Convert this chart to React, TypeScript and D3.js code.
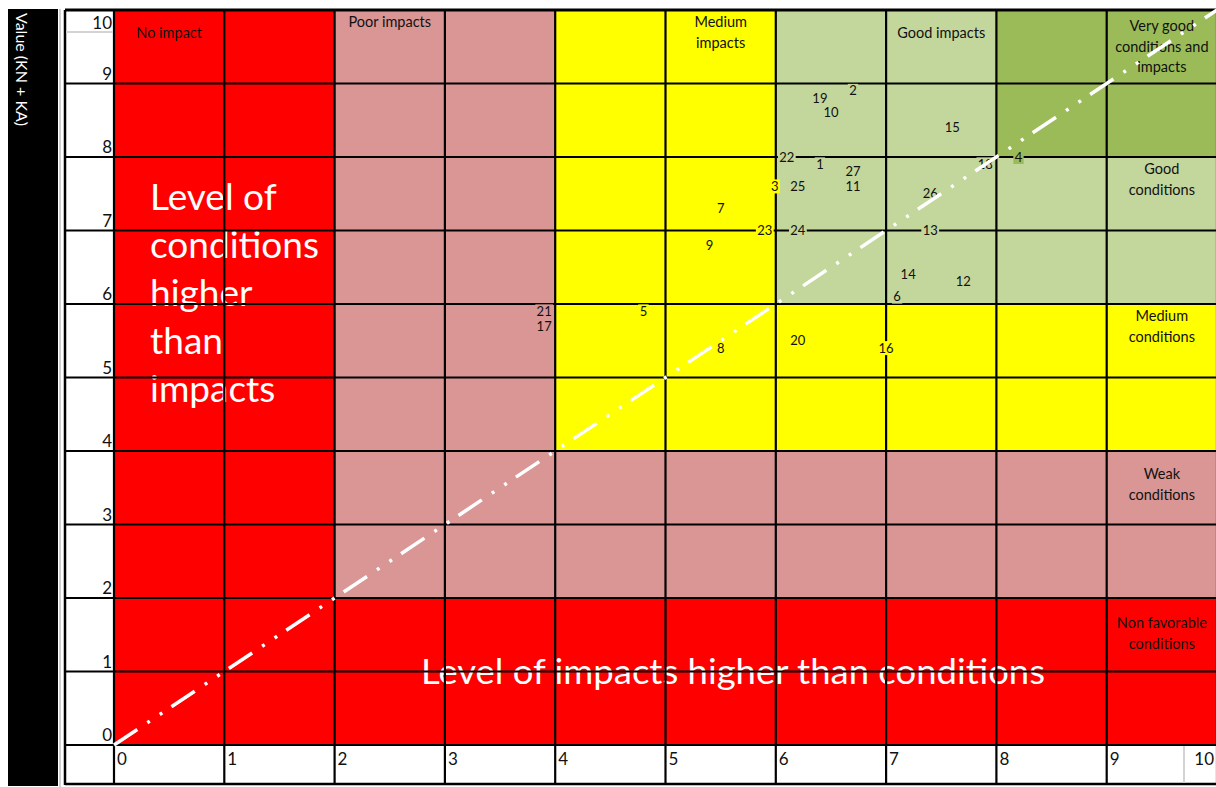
import * as d3 from "d3";

// point ids with their impact (x) and condition (y) values
const pointIds = [
  1, 2, 3, 4, 5, 6, 7, 8, 9, 10, 11, 12, 13, 14, 15, 16, 17, 18, 19, 20, 21, 22, 23, 24, 25, 26, 27,
];
const impactValues = [
  6.4, 6.7, 5.99, 8.2, 4.8, 7.1, 5.5, 5.5, 5.4, 6.5, 6.7, 7.7, 7.4, 7.2, 7.6, 7.0, 3.9, 7.9, 6.4, 6.2,
  3.9, 6.1, 5.9, 6.2, 6.2, 7.4, 6.7,
];
const conditionValues = [
  7.9, 8.9, 7.6, 8.0, 5.9, 6.1, 7.3, 5.4, 6.8, 8.6, 7.6, 6.3, 7.0, 6.4, 8.4, 5.4, 5.7, 7.9, 8.8, 5.5,
  5.9, 8.0, 7.0, 7.0, 7.6, 7.5, 7.8,
];

const ticks = [0, 1, 2, 3, 4, 5, 6, 7, 8, 9, 10];

// zone labels: column (x cell start), top of the row (y value), text lines
const zoneCols = [0, 2, 5, 7, 9, 9, 9, 9, 9];
const zoneRows = [10, 10, 10, 10, 10, 8, 6, 4, 2];
const zoneTexts = [
  ["No impact"],
  ["Poor impacts"],
  ["Medium", "impacts"],
  ["Good impacts"],
  ["Very good", "conditions and", "impacts"],
  ["Good", "conditions"],
  ["Medium", "conditions"],
  ["Weak", "conditions"],
  ["Non favorable", "conditions"],
];
const zoneOffsets = [23, 12, 12, 23, 16, 12, 12, 23, 25];

const leftText = ["Level of", "conditions", "higher", "than", "impacts"];
const bottomText = "Level of impacts higher than conditions";

const RED = "#ff0000";
const PINK = "#d99694";
const YELLOW = "#ffff00";
const LIGHT_GREEN = "#c3d69b";
const DARK_GREEN = "#9bbb59";

function zoneColor(i: number, j: number) {
  if (i < 2 || j < 2) return RED;
  if (i < 4 || j < 4) return PINK;
  if (i < 6 || j < 6) return YELLOW;
  if (i >= 8 && j >= 8) return DARK_GREEN;
  return LIGHT_GREEN;
}

const W = 1216;
const H = 787;
const font = "Lato, 'DejaVu Sans', sans-serif";

export default function App() {
  const x = d3.scaleLinear().domain([0, 10]).range([114, 1217]);
  const y = d3.scaleLinear().domain([0, 10]).range([745, 10]);
  const cells = d3.cross(d3.range(10), d3.range(10));
  const points = pointIds.map((id, k) => ({ id, vx: impactValues[k], vy: conditionValues[k] }));

  return (
    <svg
      width={W}
      height={H}
      style={{ position: "absolute", left: 0, top: 0, background: "#fff" }}
      fontFamily={font}
    >
      {/* axis title bar */}
      <rect x={8} y={9} width={50} height={777} fill="#000" />
      <text transform="translate(16,13) rotate(90)" fill="#fff" fontSize={16}>
        Value (KN + KA)
      </text>
      <line x1={60} x2={60} y1={9} y2={787} stroke="#d0d0d0" strokeWidth={2} />

      {/* zone cells */}
      {cells.map(([i, j]) => (
        <rect
          key={`c${i}-${j}`}
          x={x(i)}
          y={y(j + 1)}
          width={x(i + 1) - x(i)}
          height={y(j) - y(j + 1)}
          fill={zoneColor(i, j)}
        />
      ))}

      {/* big texts */}
      {leftText.map((t, k) => (
        <text key={t} x={150} y={210 + k * 48} fill="#fff" fontSize={37}>
          {t}
        </text>
      ))}
      <text x={421} y={684} fill="#fff" fontSize={35} textLength={624} lengthAdjust="spacingAndGlyphs">
        {bottomText}
      </text>

      {/* zone labels */}
      {zoneTexts.map((lines, k) => {
        const cx = (x(zoneCols[k]) + x(zoneCols[k] + 1)) / 2;
        return (
          <text
            key={`z${k}`}
            x={cx}
            y={y(zoneRows[k]) + zoneOffsets[k]}
            textAnchor="middle"
            fill="#111"
            fontSize={14.5}
          >
            {lines.map((l, n) => (
              <tspan key={n} x={cx} dy={n === 0 ? 5 : 20.5}>
                {l}
              </tspan>
            ))}
          </text>
        );
      })}

      {/* grid lines */}
      {ticks.map((t) => (
        <line key={`h${t}`} x1={65} x2={W} y1={y(t)} y2={y(t)} stroke="#000" strokeWidth={t === 10 ? 3 : 2.2} />
      ))}
      {ticks.map((t) => (
        <line key={`v${t}`} x1={x(t)} x2={x(t)} y1={y(10)} y2={784} stroke="#000" strokeWidth={2.2} />
      ))}
      <line x1={65} x2={65} y1={y(10)} y2={785} stroke="#000" strokeWidth={2.5} />
      <line x1={65} x2={W} y1={784} y2={784} stroke="#000" strokeWidth={2.5} />
      <line x1={66} x2={113} y1={32} y2={32} stroke="#d4d4d4" strokeWidth={2} />
      <line x1={1184} x2={1184} y1={746} y2={783} stroke="#d4d4d4" strokeWidth={2} />

      {/* tick labels */}
      {ticks.map((t) => (
        <text
          key={`yl${t}`}
          x={112}
          y={t === 10 ? y(t) + 19 : y(t) - 4}
          textAnchor="end"
          fontSize={17}
          fill="#111"
        >
          {t}
        </text>
      ))}
      {ticks.map((t) => (
        <text
          key={`xl${t}`}
          x={t === 10 ? 1214 : x(t) + 3}
          y={765}
          textAnchor={t === 10 ? "end" : "start"}
          fontSize={17}
          fill="#111"
        >
          {t}
        </text>
      ))}

      {/* point labels */}
      {points.map((p) => {
        const cx = x(p.vx);
        const cy = y(p.vy);
        const w = String(p.id).length * 7.4 + 3;
        return (
          <g key={`p${p.id}`}>
            <rect
              x={cx - w / 2}
              y={cy - 7}
              width={w}
              height={14}
              fill={zoneColor(Math.floor(p.vx), Math.floor(p.vy))}
            />
            <text x={cx} y={cy + 4.5} textAnchor="middle" fontSize={13} fill="#111">
              {p.id}
            </text>
          </g>
        );
      })}

      {/* diagonal */}
      <line
        x1={x(0)}
        y1={y(0)}
        x2={x(10)}
        y2={y(10)}
        stroke="#fff"
        strokeWidth={3.5}
        strokeDasharray="28 12 3 12 3 11"
      />
    </svg>
  );
}
